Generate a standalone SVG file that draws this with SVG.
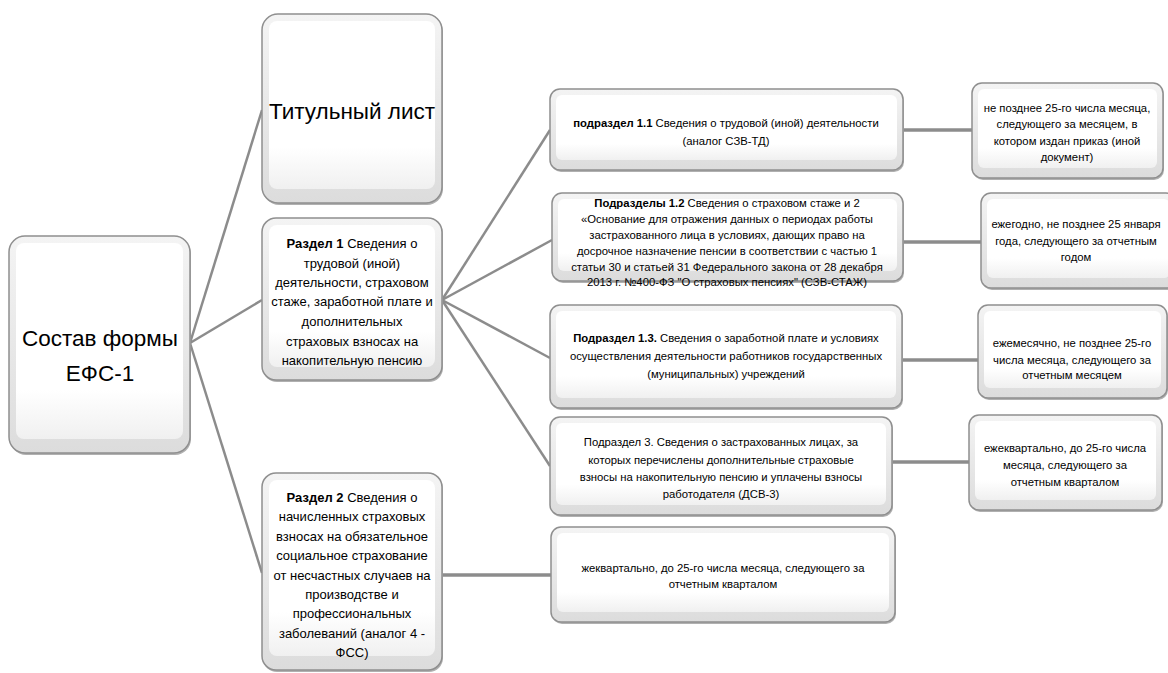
<svg xmlns="http://www.w3.org/2000/svg" width="1168" height="673" viewBox="0 0 1168 673">
<style>
.b{fill:url(#gb);stroke:#8f8f8f;stroke-width:1.5}
.s{fill:#b0b0b0}
.i{fill:url(#gi)}
.c{fill:none;stroke:#8c8c8c;stroke-width:2.5}
.h{fill:none;stroke:#8c8c8c;stroke-width:3.5}
text{font-family:"Liberation Sans",Arial,sans-serif;fill:#000;text-anchor:middle}
.big{font-size:22.5px}
.m{font-size:13px}
.t{font-size:11.3px}
.bd{font-weight:bold}
</style>
<defs>
<linearGradient id="gb" x1="0" y1="0" x2="0" y2="1">
<stop offset="0" stop-color="#f4f4f4"/>
<stop offset="1" stop-color="#dcdcdc"/>
</linearGradient>
<linearGradient id="gi" x1="0" y1="0" x2="0" y2="1">
<stop offset="0" stop-color="#ffffff"/>
<stop offset="0.75" stop-color="#ffffff"/>
<stop offset="1" stop-color="#f0f0f0"/>
</linearGradient>
</defs>
<rect width="1168" height="673" fill="#fff"/>
<g id="connectors">
<line class="c" x1="190" y1="343" x2="262" y2="110"/>
<line class="c" x1="190" y1="343" x2="262" y2="300"/>
<line class="c" x1="190" y1="343" x2="262" y2="573"/>
<line class="c" x1="442" y1="300" x2="550" y2="130"/>
<line class="c" x1="442" y1="300" x2="552" y2="240"/>
<line class="c" x1="442" y1="300" x2="550" y2="358"/>
<line class="c" x1="442" y1="300" x2="550" y2="466"/>
<line class="h" x1="442" y1="575" x2="551" y2="575"/>
<line class="h" x1="903" y1="130" x2="972" y2="130"/>
<line class="h" x1="903" y1="242" x2="981" y2="242"/>
<line class="h" x1="902" y1="360" x2="978" y2="360"/>
<line class="h" x1="892" y1="462" x2="969" y2="462"/>
</g>
<g id="root">
<rect class="s" x="10" y="238" width="181" height="217" rx="16"/>
<rect class="b" x="9" y="236" width="181" height="217" rx="16"/>
<rect class="i" x="16" y="243" width="167" height="196" rx="8"/>
<text class="big" x="100" y="346">Состав формы</text>
<text class="big" x="100" y="381">ЕФС-1</text>
</g>
<g id="titul">
<rect class="s" x="263" y="16" width="180" height="189" rx="16"/>
<rect class="b" x="262" y="14" width="180" height="189" rx="16"/>
<rect class="i" x="269" y="21" width="166" height="168" rx="8"/>
<text class="big" x="352" y="119">Титульный лист</text>
</g>
<g id="razdel1">
<rect class="s" x="263" y="220" width="180" height="162" rx="14"/>
<rect class="b" x="262" y="218" width="180" height="162" rx="14"/>
<rect class="i" x="269" y="225" width="166" height="142" rx="8"/>
<text class="m" x="352" y="248"><tspan class="bd">Раздел 1</tspan> Сведения  о</text>
<text class="m" x="352" y="268">трудовой  (иной)</text>
<text class="m" x="352" y="287">деятельности,  страховом</text>
<text class="m" x="352" y="306">стаже, заработной плате и</text>
<text class="m" x="352" y="326">дополнительных</text>
<text class="m" x="352" y="346">страховых взносах на</text>
<text class="m" x="352" y="365">накопительную пенсию</text>
</g>
<g id="razdel2">
<rect class="s" x="263" y="475" width="180" height="197" rx="14"/>
<rect class="b" x="262" y="473" width="180" height="197" rx="14"/>
<rect class="i" x="269" y="480" width="166" height="176" rx="8"/>
<text class="m" x="352" y="502"><tspan class="bd">Раздел 2</tspan> Сведения о</text>
<text class="m" x="352" y="521">начисленных страховых</text>
<text class="m" x="352" y="541">взносах на обязательное</text>
<text class="m" x="352" y="560">социальное страхование</text>
<text class="m" x="352" y="580">от несчастных случаев на</text>
<text class="m" x="352" y="599">производстве и</text>
<text class="m" x="352" y="618">профессиональных</text>
<text class="m" x="352" y="638">заболеваний (аналог 4 -</text>
<text class="m" x="352" y="657">ФСС)</text>
</g>
<g id="sub11">
<rect class="s" x="551" y="91" width="353" height="81" rx="10"/>
<rect class="b" x="550" y="89" width="353" height="81" rx="10"/>
<rect class="i" x="556" y="95" width="341" height="65" rx="6"/>
<text class="t" x="726" y="127"><tspan class="bd">подраздел 1.1</tspan> Сведения о трудовой (иной) деятельности</text>
<text class="t" x="726" y="145">(аналог СЗВ-ТД)</text>
</g>
<g id="sub12">
<rect class="s" x="553" y="195" width="351" height="88" rx="10"/>
<rect class="b" x="552" y="193" width="351" height="88" rx="10"/>
<rect class="i" x="558" y="199" width="339" height="72" rx="6"/>
<text class="t" x="727" y="207"><tspan class="bd">Подразделы 1.2</tspan> Сведения о страховом стаже и 2</text>
<text class="t" x="727" y="223">«Основание для отражения данных о периодах работы</text>
<text class="t" x="727" y="239">застрахованного лица в условиях, дающих право на</text>
<text class="t" x="727" y="255">досрочное назначение пенсии в соответствии с частью 1</text>
<text class="t" x="727" y="271">статьи 30 и статьей 31 Федерального закона от 28 декабря</text>
<text class="t" x="727" y="286">2013 г. №400-ФЗ "О страховых пенсиях" (СЗВ-СТАЖ)</text>
</g>
<g id="sub13">
<rect class="s" x="551" y="307" width="352" height="103" rx="10"/>
<rect class="b" x="550" y="305" width="352" height="103" rx="10"/>
<rect class="i" x="556" y="311" width="340" height="87" rx="6"/>
<text class="t" x="726" y="342"><tspan class="bd">Подраздел 1.3.</tspan> Сведения о заработной плате и условиях</text>
<text class="t" x="726" y="360">осуществления деятельности работников государственных</text>
<text class="t" x="726" y="378">(муниципальных) учреждений</text>
</g>
<g id="sub3">
<rect class="s" x="551" y="419" width="342" height="98" rx="10"/>
<rect class="b" x="550" y="417" width="342" height="98" rx="10"/>
<rect class="i" x="556" y="423" width="330" height="82" rx="6"/>
<text class="t" x="721" y="446">Подраздел 3. Сведения о застрахованных лицах, за</text>
<text class="t" x="721" y="464">которых  перечислены дополнительные страховые</text>
<text class="t" x="721" y="481">взносы на накопительную  пенсию и уплачены взносы</text>
<text class="t" x="721" y="498">работодателя (ДСВ-3)</text>
</g>
<g id="term2">
<rect class="s" x="552" y="529" width="344" height="95" rx="10"/>
<rect class="b" x="551" y="527" width="344" height="95" rx="10"/>
<rect class="i" x="557" y="533" width="332" height="79" rx="6"/>
<text class="t" x="723" y="572">жеквартально, до 25-го числа месяца, следующего за</text>
<text class="t" x="723" y="588">отчетным кварталом</text>
</g>
<g id="term11">
<rect class="s" x="973" y="85" width="191" height="95" rx="10"/>
<rect class="b" x="972" y="83" width="191" height="95" rx="10"/>
<rect class="i" x="978" y="89" width="179" height="79" rx="6"/>
<text class="t" x="1067" y="112">не позднее 25-го числа месяца,</text>
<text class="t" x="1067" y="128">следующего за месяцем, в</text>
<text class="t" x="1067" y="145">котором издан приказ (иной</text>
<text class="t" x="1067" y="161">документ)</text>
</g>
<g id="term12">
<rect class="s" x="982" y="195" width="195" height="95" rx="10"/>
<rect class="b" x="981" y="193" width="195" height="95" rx="10"/>
<rect class="i" x="987" y="199" width="183" height="79" rx="6"/>
<text class="t" x="1076" y="228">ежегодно, не позднее 25 января</text>
<text class="t" x="1076" y="245">года, следующего за отчетным</text>
<text class="t" x="1076" y="261">годом</text>
</g>
<g id="term13">
<rect class="s" x="979" y="307" width="189" height="93" rx="10"/>
<rect class="b" x="978" y="305" width="189" height="93" rx="10"/>
<rect class="i" x="984" y="311" width="177" height="77" rx="6"/>
<text class="t" x="1072" y="347">ежемесячно, не позднее 25-го</text>
<text class="t" x="1072" y="364">числа месяца, следующего за</text>
<text class="t" x="1072" y="379">отчетным месяцем</text>
</g>
<g id="term3">
<rect class="s" x="970" y="417" width="193" height="95" rx="10"/>
<rect class="b" x="969" y="415" width="193" height="95" rx="10"/>
<rect class="i" x="975" y="421" width="181" height="79" rx="6"/>
<text class="t" x="1065" y="452">ежеквартально, до 25-го числа</text>
<text class="t" x="1065" y="469">месяца, следующего за</text>
<text class="t" x="1065" y="486">отчетным кварталом</text>
</g>
</svg>
